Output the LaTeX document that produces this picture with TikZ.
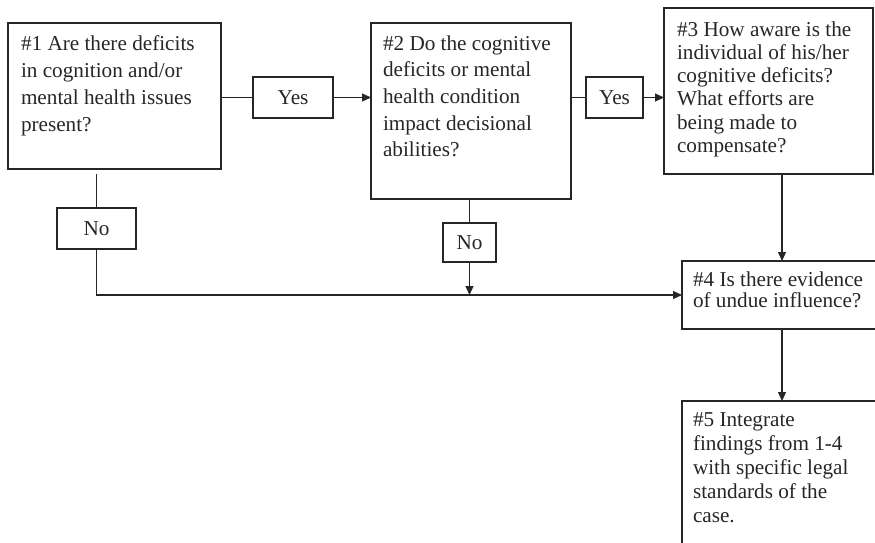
\documentclass[tikz,border=0pt]{standalone}
\usepackage{fontspec}
\setmainfont{Liberation Serif}
\usetikzlibrary{arrows.meta}
\begin{document}
\begin{tikzpicture}[x=1pt,y=-1pt, line width=1.2pt, color=black!85,
  box/.style={draw, rectangle, anchor=north west, inner sep=0pt, outer sep=0pt},
  lbl/.style={draw, rectangle, inner sep=0pt, outer sep=0pt, font=\fontsize{21.2}{25}\selectfont},
  txt/.style={anchor=base west, align=left, inner sep=0pt, outer sep=0pt},
  arr/.style={-{Triangle[length=9pt,width=8pt]}}]
\useasboundingbox (0,0) rectangle (875,542);
\clip (0,0) rectangle (875,542);
% main boxes
\node[box, minimum width=213pt, minimum height=146pt] (b1) at (8,23) {};
\node[box, minimum width=200pt, minimum height=176pt] (b2) at (371,23) {};
\node[box, minimum width=209pt, minimum height=166pt] (b3) at (664,8) {};
\node[box, minimum width=200pt, minimum height=68pt] (b4) at (682,261) {};
\node[box, minimum width=200pt, minimum height=170pt] (b5) at (682,401) {};
% texts (anchored at the baseline of their last line)
\node[txt, font=\fontsize{21.2}{27.2}\selectfont] (t1) at (21,131.6)
  {\#1 Are there deficits\\in cognition and/or\\mental health issues\\present?};
\node[txt, font=\fontsize{21.2}{26.7}\selectfont] (t2) at (383,156.8)
  {\#2 Do the cognitive\\deficits or mental\\health condition\\impact decisional\\abilities?};
\node[txt, font=\fontsize{21.2}{23.3}\selectfont] (t3) at (677,152.5)
  {\#3 How aware is the\\individual of his/her\\cognitive deficits?\\What efforts are\\being made to\\compensate?};
\node[txt, font=\fontsize{21.2}{21.7}\selectfont] (t4) at (693,307.7)
  {\#4 Is there evidence\\of undue influence?};
\node[txt, font=\fontsize{21.2}{24}\selectfont] (t5) at (693,522)
  {\#5 Integrate\\findings from 1-4\\with specific legal\\standards of the\\case.};
% labels
\node[lbl, minimum width=80pt, minimum height=41pt] (y1) at (293,97.5) {Yes};
\node[lbl, minimum width=57pt, minimum height=41pt] (y2) at (614.5,97.5) {Yes};
\node[lbl, minimum width=79pt, minimum height=41pt] (n1) at (96.5,228.5) {No};
\node[lbl, minimum width=53pt, minimum height=39pt] (n2) at (469.5,242.5) {No};
% connectors
\draw (y1.west -| b1.east) -- (y1.west);
\draw[arr] (y1.east) -- (y1.east -| b2.west);
\draw (y2.west -| b2.east) -- (y2.west);
\draw[arr] (y2.east) -- (y2.east -| b3.west);
\draw ([yshift=-5pt]b1.south -| n1.north) -- (n1.north);
\draw[arr] (n1.south) |- (b4.west);
\draw (b2.south -| n2.north) -- (n2.north);
\draw[arr] (n2.south) -- (n2.south |- b4.west);
\draw[arr] (b3.south -| b4.north) -- (b4.north);
\draw[arr] (b4.south) -- (b5.north);
\end{tikzpicture}
\end{document}
